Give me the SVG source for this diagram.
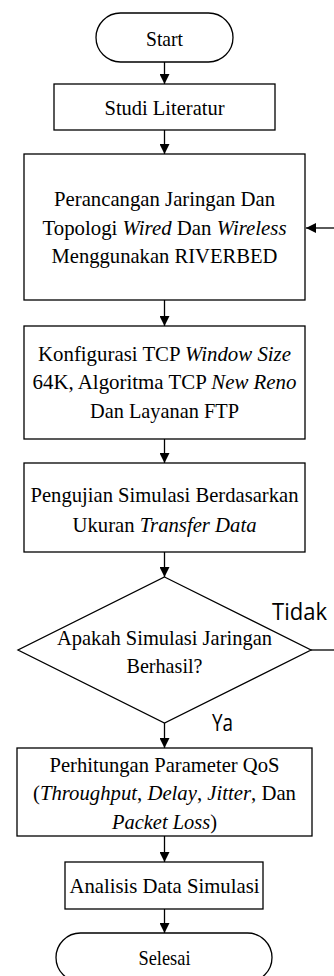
<svg xmlns="http://www.w3.org/2000/svg" width="334" height="976" viewBox="0 0 334 976">
<style>
.shape{fill:#fff;stroke:#000;stroke-width:1.3}
.line{fill:none;stroke:#000;stroke-width:1.3}
text.t{font-family:'Liberation Serif','Times New Roman',serif;font-size:21px;fill:#000;text-anchor:middle}
tspan.i{font-style:italic}
text.lbl{font-family:'Open Sans','DejaVu Sans',sans-serif;font-size:23px;fill:#000}
</style>
<defs>
<marker id="ah" viewBox="0 0 10 10" refX="10" refY="5" markerWidth="10" markerHeight="10" markerUnits="userSpaceOnUse" orient="auto">
<path d="M0,0 L10,5 L0,10 Z" fill="#000"/>
</marker>
</defs>
<rect width="334" height="976" fill="#fff"/>
<g id="connectors">
<line class="line" x1="164.5" y1="62" x2="164.5" y2="84" marker-end="url(#ah)"/>
<line class="line" x1="164.5" y1="130" x2="164.5" y2="154" marker-end="url(#ah)"/>
<line class="line" x1="164.5" y1="300" x2="164.5" y2="326" marker-end="url(#ah)"/>
<line class="line" x1="164.5" y1="439" x2="164.5" y2="463" marker-end="url(#ah)"/>
<line class="line" x1="164.5" y1="552" x2="164.5" y2="577" marker-end="url(#ah)"/>
<line class="line" x1="164.5" y1="723" x2="164.5" y2="748" marker-end="url(#ah)"/>
<line class="line" x1="164.5" y1="836" x2="164.5" y2="862" marker-end="url(#ah)"/>
<line class="line" x1="164.5" y1="909" x2="164.5" y2="933" marker-end="url(#ah)"/>
<line class="line" x1="311" y1="650" x2="336" y2="650"/>
<line class="line" x1="336" y1="228" x2="306" y2="228" marker-end="url(#ah)"/>
<text class="lbl" x="272" y="620" textLength="55" lengthAdjust="spacingAndGlyphs">Tidak</text>
<text class="lbl" x="212" y="731" textLength="21" lengthAdjust="spacingAndGlyphs">Ya</text>
</g>
<g id="start">
<rect class="shape" x="96" y="13" width="137" height="49" rx="24.5"/>
<text class="t" x="164.5" y="45.5" textLength="37" lengthAdjust="spacingAndGlyphs">Start</text>
</g>
<g id="studi">
<rect class="shape" x="54" y="84" width="221" height="46"/>
<text class="t" x="164.5" y="115" textLength="120" lengthAdjust="spacingAndGlyphs">Studi Literatur</text>
</g>
<g id="perancangan">
<rect class="shape" x="24" y="154" width="281" height="146"/>
<text class="t" x="164.5" y="206" textLength="221" lengthAdjust="spacingAndGlyphs">Perancangan Jaringan Dan</text>
<text class="t" x="164.5" y="234.5" textLength="244" lengthAdjust="spacingAndGlyphs">Topologi <tspan class="i">Wired</tspan> Dan <tspan class="i">Wireless</tspan></text>
<text class="t" x="164.5" y="263" textLength="226" lengthAdjust="spacingAndGlyphs">Menggunakan RIVERBED</text>
</g>
<g id="konfigurasi">
<rect class="shape" x="24" y="326" width="281" height="113"/>
<text class="t" x="164.5" y="360.5" textLength="253" lengthAdjust="spacingAndGlyphs">Konfigurasi TCP <tspan class="i">Window Size</tspan></text>
<text class="t" x="164.5" y="389" textLength="264" lengthAdjust="spacingAndGlyphs">64K, Algoritma TCP <tspan class="i">New Reno</tspan></text>
<text class="t" x="164.5" y="418" textLength="149" lengthAdjust="spacingAndGlyphs">Dan Layanan FTP</text>
</g>
<g id="pengujian">
<rect class="shape" x="24" y="463" width="281" height="89"/>
<text class="t" x="164.5" y="501.5" textLength="268" lengthAdjust="spacingAndGlyphs">Pengujian Simulasi Berdasarkan</text>
<text class="t" x="164.5" y="531.5" textLength="184" lengthAdjust="spacingAndGlyphs">Ukuran <tspan class="i">Transfer Data</tspan></text>
</g>
<g id="decision">
<polygon class="shape" points="164.5,577 311,650 164.5,723 18,650"/>
<text class="t" x="164.5" y="645" textLength="215" lengthAdjust="spacingAndGlyphs">Apakah Simulasi Jaringan</text>
<text class="t" x="164.5" y="673" textLength="76" lengthAdjust="spacingAndGlyphs">Berhasil?</text>
</g>
<g id="perhitungan">
<rect class="shape" x="17" y="748" width="295" height="88"/>
<text class="t" x="164.5" y="771.5" textLength="230" lengthAdjust="spacingAndGlyphs">Perhitungan Parameter QoS</text>
<text class="t" x="164.5" y="800" textLength="263" lengthAdjust="spacingAndGlyphs">(<tspan class="i">Throughput</tspan>, <tspan class="i">Delay</tspan>, <tspan class="i">Jitter</tspan>, Dan</text>
<text class="t" x="164.5" y="829" textLength="105" lengthAdjust="spacingAndGlyphs"><tspan class="i">Packet Loss</tspan>)</text>
</g>
<g id="analisis">
<rect class="shape" x="65" y="862" width="198" height="47"/>
<text class="t" x="164.5" y="893" textLength="190" lengthAdjust="spacingAndGlyphs">Analisis Data Simulasi</text>
</g>
<g id="selesai">
<rect class="shape" x="56" y="933" width="216" height="49" rx="24.5"/>
<text class="t" x="164.5" y="965" textLength="52" lengthAdjust="spacingAndGlyphs">Selesai</text>
</g>
</svg>
